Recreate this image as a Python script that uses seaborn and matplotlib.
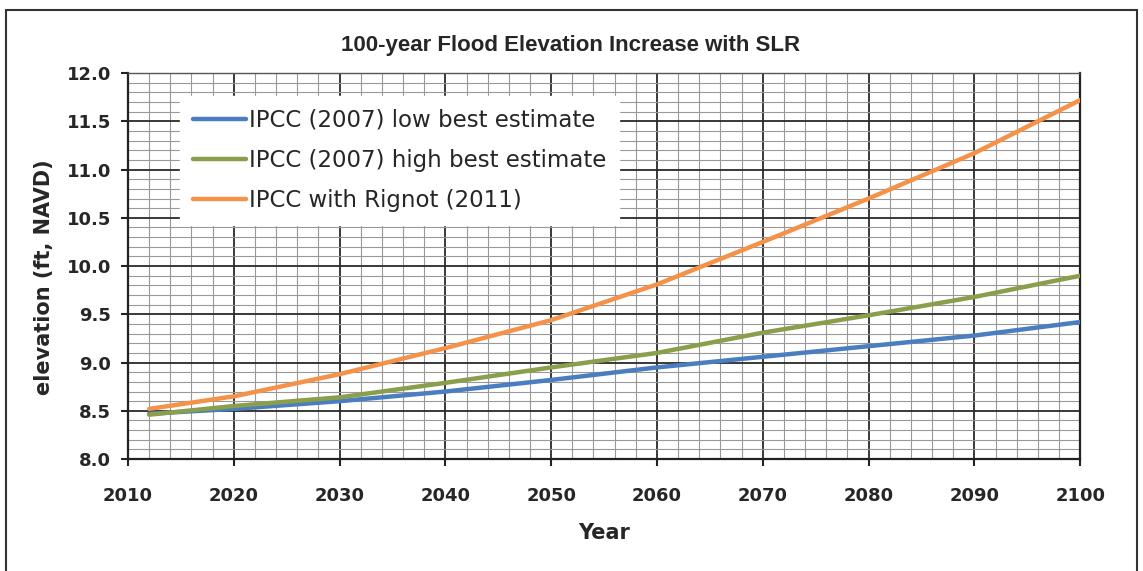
import numpy as np
import pandas as pd
import matplotlib
matplotlib.use("Agg")
import matplotlib.pyplot as plt
from matplotlib.ticker import MultipleLocator
from matplotlib.patches import Rectangle
import seaborn as sns

years = [2012, 2020, 2030, 2040, 2050, 2060, 2070, 2080, 2090, 2100]
low_best = [8.47, 8.52, 8.60, 8.70, 8.82, 8.95, 9.06, 9.17, 9.28, 9.42]
high_best = [8.46, 8.55, 8.64, 8.79, 8.95, 9.10, 9.31, 9.49, 9.68, 9.90]
rignot = [8.52, 8.65, 8.88, 9.15, 9.44, 9.81, 10.25, 10.70, 11.17, 11.72]
series_names = ["IPCC (2007) low best estimate", "IPCC (2007) high best estimate", "IPCC with Rignot (2011)"]
colors = ["#4a7ec0", "#8a9e4c", "#f4924a"]
x_ticks = [2010, 2020, 2030, 2040, 2050, 2060, 2070, 2080, 2090, 2100]
y_ticks = [8.0, 8.5, 9.0, 9.5, 10.0, 10.5, 11.0, 11.5, 12.0]

df = pd.DataFrame({
    "Year": years * 3,
    "elev": low_best + high_best + rignot,
    "series": [series_names[0]] * len(years) + [series_names[1]] * len(years) + [series_names[2]] * len(years),
})

sns.set_theme(style="white")
plt.rcParams["font.family"] = ["DejaVu Sans"]
WIDE = ["DejaVu Sans"]
NARROW = ["Liberation Sans", "DejaVu Sans"]

fig = plt.figure(figsize=(11.43, 5.71), dpi=100)
ax = fig.add_axes([0.112, 0.196, 0.833, 0.676])

sns.lineplot(data=df, x="Year", y="elev", hue="series", hue_order=series_names,
             palette=colors, linewidth=3.2, ax=ax, legend=True, zorder=3)

ax.set_xlim(2010, 2100)
ax.set_ylim(8.0, 12.0)
ax.set_xticks(x_ticks)
ax.set_yticks(y_ticks)
ax.set_xticklabels([str(t) for t in x_ticks], fontsize=13, fontweight="bold", family=WIDE)
ax.set_yticklabels([f"{t:.1f}" for t in y_ticks], fontsize=13, fontweight="bold", family=WIDE)
ax.xaxis.set_minor_locator(MultipleLocator(2))
ax.yaxis.set_minor_locator(MultipleLocator(0.1))
ax.grid(which="major", color="#2a2a2a", linewidth=1.3, zorder=0)
ax.grid(which="minor", color="#999999", linewidth=0.8, zorder=0)
ax.set_axisbelow(True)
ax.tick_params(axis="x", which="major", direction="out", length=5, width=1.5, color="#222222", bottom=True, pad=15)
ax.tick_params(axis="y", which="major", direction="out", length=5, width=1.5, color="#222222", left=True, pad=7)
ax.tick_params(which="minor", length=0)

for side in ["left", "bottom", "right"]:
    ax.spines[side].set_color("#222222")
    ax.spines[side].set_linewidth(1.6)
ax.spines["top"].set_color("#555555")
ax.spines["top"].set_linewidth(1.0)

ax.set_xlabel("Year", fontsize=15, fontweight="bold", labelpad=13, family=WIDE)
ax.set_ylabel("elevation (ft, NAVD)", fontsize=15, fontweight="bold", family=WIDE)
ax.yaxis.set_label_coords(-0.078, 0.47)
fig.text(0.499, 0.921, "100-year Flood Elevation Increase with SLR", fontsize=16,
         fontweight="bold", family=NARROW, ha="center", va="center")

leg = ax.legend(loc="upper left", bbox_to_anchor=(0.043, 0.97), frameon=True,
                framealpha=1.0, facecolor="white", edgecolor="white", fancybox=False,
                handlelength=2.3, handletextpad=0.15, labelspacing=0.75, borderpad=0.55,
                prop={"family": WIDE, "size": 16.5})
for line in leg.get_lines():
    line.set_linewidth(3.2)
leg.set_zorder(5)

fig.patches.append(Rectangle((0.005, -0.01), 0.99, 0.992, transform=fig.transFigure,
                             fill=False, edgecolor="#333333", linewidth=1.5))

fig.savefig("out.png", dpi=100, facecolor="white")
